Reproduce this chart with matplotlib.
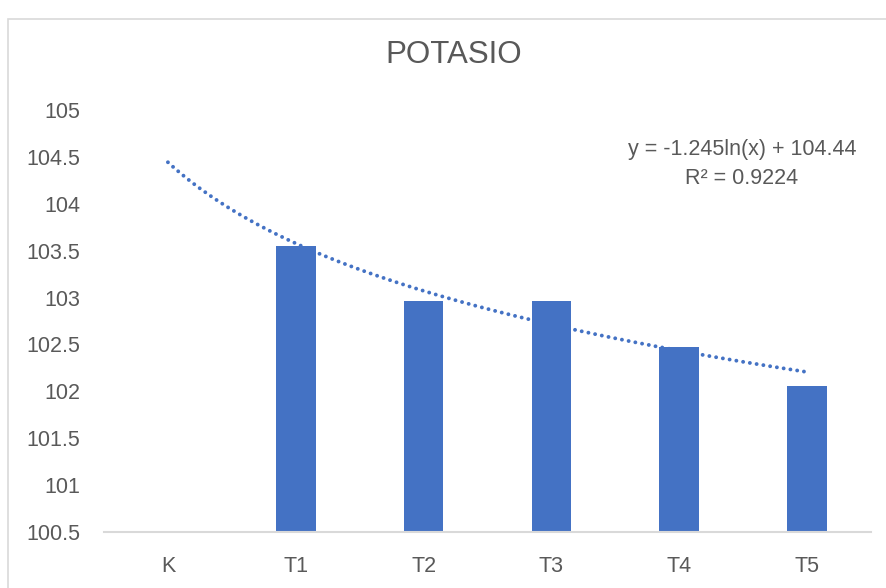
import matplotlib.pyplot as plt
import numpy as np
from matplotlib.patches import Rectangle

# data
categories = ['K', 'T1', 'T2', 'T3', 'T4', 'T5']
potasio = [np.nan, 103.55, 102.96, 102.96, 102.47, 102.06]
eq_text = 'y = -1.245ln(x) + 104.44\nR² = 0.9224'
yticks = [100.5, 101, 101.5, 102, 102.5, 103, 103.5, 104, 104.5, 105]

blue = '#4472C4'
grey_txt = '#595959'
plt.rcParams['font.family'] = ['Liberation Sans', 'DejaVu Sans']

fig = plt.figure(figsize=(8.86, 5.88), dpi=100)
ax = fig.add_axes([104/886, 1-532/588, 767/886, 422/588])

x = np.arange(len(categories))
ax.bar(x, potasio, width=0.31, color=blue)

# log trendline (excel style, x = 1..n)
xe = x + 1
vals = np.array(potasio)
ok = ~np.isnan(vals)
b, a = np.polyfit(np.log(xe[ok]), vals[ok], 1)
xt = np.linspace(1, 6, 200)
ax.plot(xt - 1, a + b*np.log(xt), color=blue, lw=2.8,
        linestyle=(0, (0.01, 1.75)), dash_capstyle='round')

ax.set_xlim(-0.5, len(categories)-0.5)
ax.set_ylim(100.5, 105)
ax.set_yticks(yticks)
ax.set_yticklabels([('%g' % v) for v in yticks])
ax.set_xticks(x)
ax.set_xticklabels(categories)
ax.tick_params(length=0, labelsize=15.5, colors=grey_txt)
ax.tick_params(axis='y', pad=17)
ax.tick_params(axis='x', pad=17)
for s in ['top', 'right', 'left']:
    ax.spines[s].set_visible(False)
ax.spines['bottom'].set_color('#D9D9D9')
ax.spines['bottom'].set_linewidth(1.5)

fig.text(742/886, 1-164/588, eq_text, ha='center', va='center',
         fontsize=15.5, color=grey_txt, linespacing=1.45)

fig.text(454/886, 1-55/588, 'POTASIO', ha='center', va='center',
         fontsize=22.5, color=grey_txt)

fig.patches.append(Rectangle((8/886, -0.1), 1.2, 1.1 - 19/588,
                             transform=fig.transFigure, fill=False,
                             edgecolor='#D9D9D9', lw=1.2))

fig.savefig('out.png', dpi=100)
